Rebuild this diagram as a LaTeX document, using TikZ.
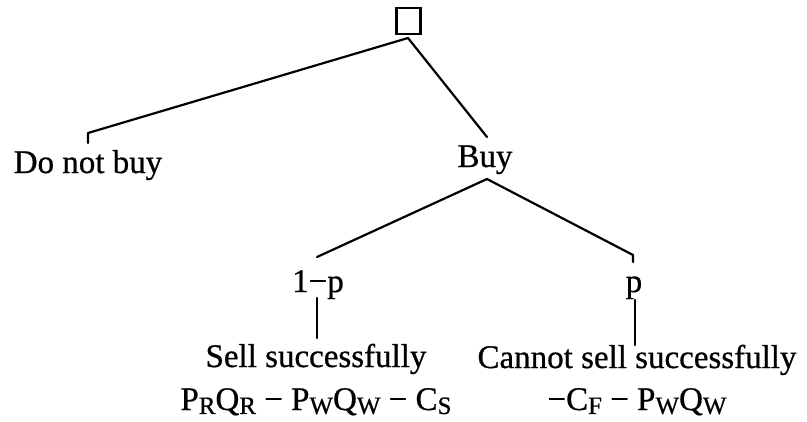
\documentclass[tikz,border=0pt]{standalone}
\usepackage{fontspec}
\setmainfont{Liberation Serif}
\newfontfamily\lblfont{Liberation Serif}[FakeBold=0.7]
\newcommand{\lowsub}[1]{\raisebox{-0.12em}{\fontsize{25}{25}\selectfont #1}}
\begin{document}
\begin{tikzpicture}[x=1pt,y=-1pt,
  lbl/.style={font=\lblfont\fontsize{33}{36}\selectfont, anchor=base, inner sep=0pt},
  edge/.style={line width=2.2pt, line join=round, line cap=round}]
\useasboundingbox (0,0) rectangle (807,421);
\node[draw, line width=2.4pt, minimum width=24pt, minimum height=26pt, inner sep=0pt] (root) at (408.5,21) {};
\node[lbl] (nobuy) at (88,173) {Do not buy};
\node[lbl] (buy) at (485,167) {Buy};
\node[lbl] (q) at (318,292) {1−p};
\node[lbl] (p) at (634,292) {p};
\node[lbl] (sell) at (316,367) {Sell successfully};
\node[lbl] (sellv) at (316,410) {P\lowsub{R}Q\lowsub{R} − P\lowsub{W}Q\lowsub{W} − C\lowsub{S}};
\node[lbl] (nosell) at (637,368) {Cannot sell successfully};
\node[lbl] (nosellv) at (637,410) {−C\lowsub{F} − P\lowsub{W}Q\lowsub{W}};
\coordinate (r0) at (408,38);
\coordinate (nbTick) at (88,133);
\coordinate (nbEnd) at (88,143);
\coordinate (buyIn) at (487,137);
\coordinate (buyOut) at (487,179);
\coordinate (qIn) at (317,257);
\coordinate (pCorner) at (633,255);
\coordinate (pIn) at (633,262);
\coordinate (qBarT) at (317,298);
\coordinate (qBarB) at (317,338);
\coordinate (pBarT) at (635,300);
\coordinate (pBarB) at (635,345);
\draw[edge] (r0) -- (nbTick) -- (nbEnd);
\draw[edge] (r0) -- (buyIn);
\draw[edge] (buyOut) -- (qIn);
\draw[edge] (buyOut) -- (pCorner) -- (pIn);
\draw[edge] (qBarT) -- (qBarB);
\draw[edge] (pBarT) -- (pBarB);
\end{tikzpicture}
\end{document}
